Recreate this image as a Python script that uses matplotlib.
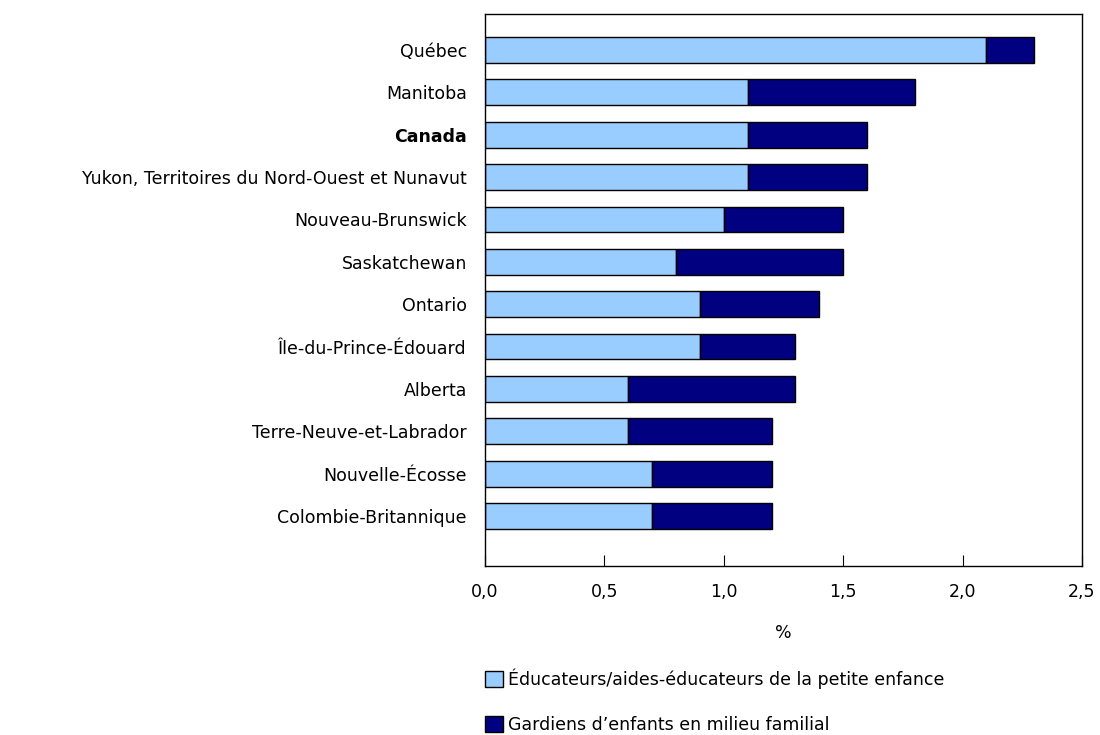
import matplotlib.pyplot as plt
from matplotlib.ticker import FuncFormatter

# Categories, top to bottom as in the chart
regions = ['Québec', 'Manitoba', 'Canada',
           'Yukon, Territoires du Nord-Ouest et Nunavut',
           'Nouveau-Brunswick', 'Saskatchewan', 'Ontario',
           'Île-du-Prince-Édouard', 'Alberta', 'Terre-Neuve-et-Labrador',
           'Nouvelle-Écosse', 'Colombie-Britannique']
educateurs = [2.1, 1.1, 1.1, 1.1, 1.0, 0.8, 0.9, 0.9, 0.6, 0.6, 0.7, 0.7]
gardiens = [0.2, 0.7, 0.5, 0.5, 0.5, 0.7, 0.5, 0.4, 0.7, 0.6, 0.5, 0.5]
x_ticks = [0.0, 0.5, 1.0, 1.5, 2.0, 2.5]

light = '#99ccff'
dark = '#000080'

plt.rcParams['font.family'] = ['DejaVu Sans']
plt.rcParams['font.size'] = 12.5

fig = plt.figure(figsize=(11, 7.35), dpi=100)
ax = fig.add_axes([0.4409, 0.2299, 0.5427, 0.7511])

n = len(regions)
pos = [n - 1 - i for i in range(n)]
b1 = ax.barh(pos, educateurs, height=0.61, color=light, edgecolor='black', linewidth=1,
             label='Éducateurs/aides-éducateurs de la petite enfance')
b2 = ax.barh(pos, gardiens, left=educateurs, height=0.61, color=dark, edgecolor='black',
             linewidth=1, label='Gardiens d\u2019enfants en milieu familial')

ax.set_xlim(0, 2.5)
ax.set_ylim(-1.18, n - 1 + 0.85)
ax.set_xticks(x_ticks)
ax.xaxis.set_major_formatter(FuncFormatter(lambda v, p: f'{v:.1f}'.replace('.', ',')))
ax.tick_params(axis='x', direction='in', length=8, pad=12, colors='black')
ax.tick_params(axis='y', length=0, pad=13)
ax.set_yticks(pos)
ax.set_yticklabels(regions)
for lbl in ax.get_yticklabels():
    if lbl.get_text() == 'Canada':
        lbl.set_fontweight('bold')
for s in ax.spines.values():
    s.set_linewidth(1)
ax.set_xlabel('%', labelpad=17)

fig.legend(handles=[b1, b2], loc='upper left', bbox_to_anchor=(0.435, 0.1), frameon=False,
           handlelength=1.0, handleheight=1.0, handletextpad=0.3, labelspacing=1.55,
           borderaxespad=0)

fig.savefig('out.png', dpi=100)
